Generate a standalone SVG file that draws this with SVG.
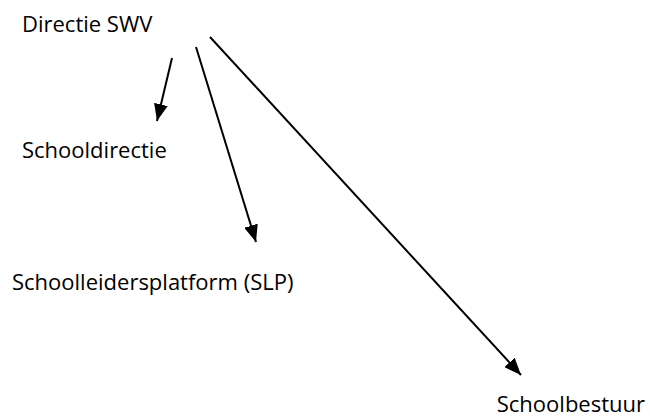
<svg xmlns="http://www.w3.org/2000/svg" width="650" height="417" viewBox="0 0 650 417">
<style>
text{font-family:"Open Sans","Liberation Sans",sans-serif;font-size:22px;fill:#000}
.c{stroke:#000;stroke-width:2;fill:none}
</style>
<defs>
<marker id="ah" viewBox="0 0 10 10" refX="10" refY="5" markerWidth="17" markerHeight="14" markerUnits="userSpaceOnUse" orient="auto" preserveAspectRatio="none">
<path d="M0,0L10,5L0,10z" fill="#000"/>
</marker>
</defs>
<rect width="650" height="417" fill="#fff"/>
<g id="n-directie"><text x="22" y="32">Directie SWV</text></g>
<g id="n-schooldirectie"><text x="22" y="158">Schooldirectie</text></g>
<g id="n-slp"><text x="12" y="290">Schoolleidersplatform (SLP)</text></g>
<g id="n-bestuur"><text x="645" y="412" text-anchor="end">Schoolbestuur</text></g>
<g id="connectors">
<line class="c" x1="172" y1="58" x2="157" y2="121" marker-end="url(#ah)"/>
<line class="c" x1="196" y1="47" x2="256" y2="242" marker-end="url(#ah)"/>
<line class="c" x1="210" y1="37" x2="521" y2="375" marker-end="url(#ah)"/>
</g>
</svg>
